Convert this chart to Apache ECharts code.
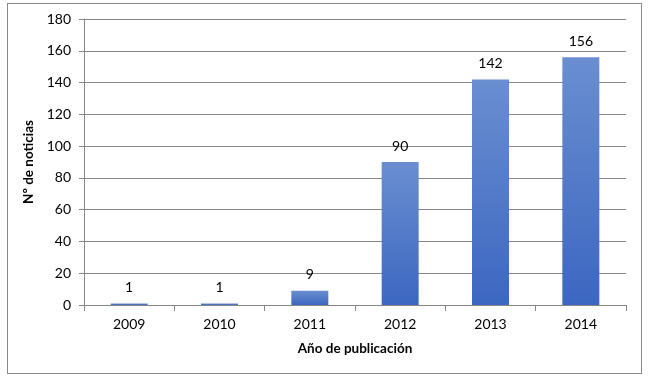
<!DOCTYPE html>
<html><head><meta charset="utf-8">
<script src="https://cdn.jsdelivr.net/npm/echarts@6/dist/echarts.min.js"></script>
<style>html,body{margin:0;padding:0;background:#fff}#c{width:649px;height:382px;}
#frame{position:absolute;left:7px;top:3px;width:635px;height:371px;border:1px solid #8a8a8a;box-sizing:border-box;pointer-events:none}</style>
</head><body><div id="c"></div><div id="frame"></div>
<script>
const categories = ['2009','2010','2011','2012','2013','2014'];
const values = [1, 1, 9, 90, 142, 156];
const yTicks = {min: 0, max: 180, interval: 20};
const chart = echarts.init(document.getElementById('c'));
const font = 'Lato, "Open Sans", sans-serif';
chart.setOption({
  animation: false,
  grid: {left: 84, right: 23, top: 19, bottom: 77, containLabel: false},
  xAxis: {
    type: 'category', data: categories,
    name: 'Año de publicación', nameLocation: 'middle', nameGap: 37,
    nameTextStyle: {fontFamily: font, fontSize: 13.5, fontWeight: 'bold', color: '#000'},
    axisLine: {lineStyle: {color: '#868686'}},
    axisTick: {show: true, length: 6, lineStyle: {color: '#868686'}},
    axisLabel: {fontFamily: font, fontSize: 14, color: '#000', margin: 12}
  },
  yAxis: {
    type: 'value', min: yTicks.min, max: yTicks.max, interval: yTicks.interval,
    name: 'Nº de noticias', nameLocation: 'middle', nameGap: 45,
    nameTextStyle: {fontFamily: font, fontSize: 13.5, fontWeight: 'bold', color: '#000'},
    axisLine: {show: true, lineStyle: {color: '#868686'}},
    axisTick: {show: true, length: 5, lineStyle: {color: '#868686'}},
    axisLabel: {fontFamily: font, fontSize: 14, color: '#000', margin: 13},
    splitLine: {lineStyle: {color: '#868686'}}
  },
  series: [{
    type: 'bar', data: values, barWidth: 37,
    itemStyle: {color: new echarts.graphic.LinearGradient(0,0,0,1,[{offset:0,color:'#6a8ed0'},{offset:1,color:'#3c67c1'}])},
    label: {show: true, position: 'top', distance: 9, fontFamily: font, fontSize: 14, color: '#000'}
  }]
});
</script></body></html>
